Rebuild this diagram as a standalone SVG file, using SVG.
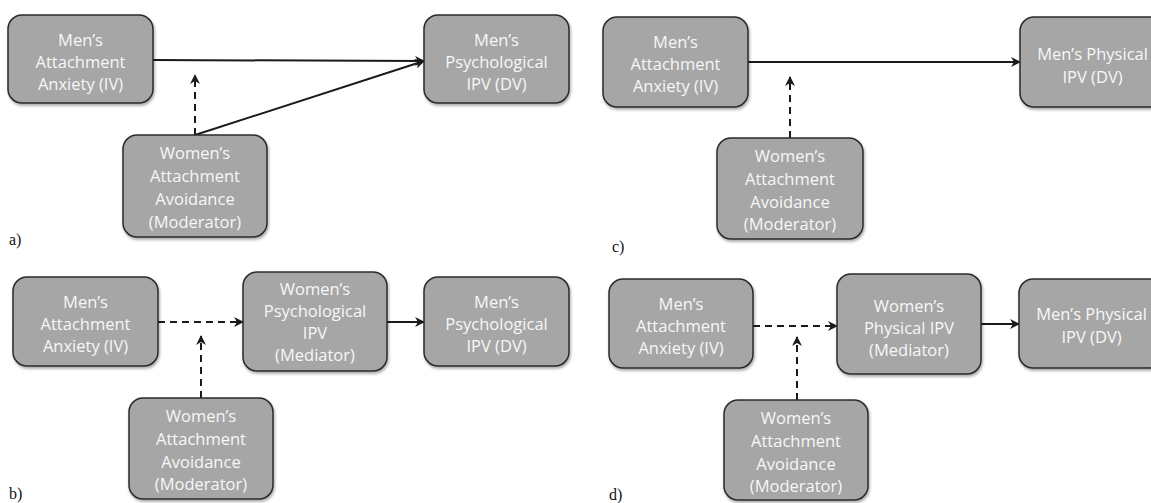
<svg xmlns="http://www.w3.org/2000/svg" width="1151" height="503" viewBox="0 0 1151 503">
  <defs>
    <marker id="arrow" viewBox="0 0 10 10" refX="9" refY="5" markerWidth="10" markerHeight="10" markerUnits="userSpaceOnUse" orient="auto">
      <path d="M0,0 L10,5 L0,10 L3,5 Z" fill="#1a1a1a"/>
    </marker>
    <filter id="shadow" x="-10%" y="-10%" width="130%" height="130%">
      <feGaussianBlur in="SourceAlpha" stdDeviation="1.5"/>
      <feOffset dx="1" dy="2" result="b"/>
      <feComponentTransfer><feFuncA type="linear" slope="0.35"/></feComponentTransfer>
      <feMerge><feMergeNode/><feMergeNode in="SourceGraphic"/></feMerge>
    </filter>
  </defs>
  <style>
    .box { fill: #a6a6a6; stroke: #2b2b2b; stroke-width: 1.5; filter: url(#shadow); }
    .lbl { font-family: "Open Sans", "Liberation Sans", sans-serif; font-size: 16.5px; fill: #f7f7f7; text-anchor: middle; }
    .solid { stroke: #1a1a1a; stroke-width: 2; fill: none; marker-end: url(#arrow); }
    .dash { stroke: #1a1a1a; stroke-width: 2; fill: none; stroke-dasharray: 7 5; marker-end: url(#arrow); }
    .tag { font-family: "Liberation Serif", serif; font-size: 16px; fill: #111; }
  </style>
  <rect width="1151" height="503" fill="#ffffff"/>

  <!-- connectors -->
  <g id="connectors">
    <!-- a -->
    <line class="solid" x1="153" y1="60" x2="424" y2="61"/>
    <line class="solid" x1="195" y1="135" x2="424" y2="61"/>
    <line class="dash" x1="195" y1="135" x2="195" y2="75"/>
    <!-- c -->
    <line class="solid" x1="748" y1="62" x2="1020" y2="62"/>
    <line class="dash" x1="790" y1="138" x2="790" y2="77"/>
    <!-- b -->
    <line class="dash" x1="158" y1="322" x2="243" y2="322"/>
    <line class="dash" x1="201" y1="398" x2="201" y2="336"/>
    <line class="solid" x1="387" y1="322" x2="424" y2="322"/>
    <!-- d -->
    <line class="dash" x1="753" y1="326" x2="837" y2="326"/>
    <line class="dash" x1="797" y1="400" x2="797" y2="337"/>
    <line class="solid" x1="981" y1="324" x2="1019" y2="324"/>
  </g>

  <!-- panel a -->
  <g id="a-iv">
    <rect class="box" x="8" y="15" width="145" height="88" rx="14"/>
    <text class="lbl" x="80.5" y="46">Men’s</text>
    <text class="lbl" x="80.5" y="68">Attachment</text>
    <text class="lbl" x="80.5" y="90">Anxiety (IV)</text>
  </g>
  <g id="a-dv">
    <rect class="box" x="424" y="15" width="145" height="88" rx="14"/>
    <text class="lbl" x="496.5" y="46">Men’s</text>
    <text class="lbl" x="496.5" y="68">Psychological</text>
    <text class="lbl" x="496.5" y="90">IPV (DV)</text>
  </g>
  <g id="a-mod">
    <rect class="box" x="123" y="135" width="144" height="102" rx="14"/>
    <text class="lbl" x="195" y="159">Women’s</text>
    <text class="lbl" x="195" y="182">Attachment</text>
    <text class="lbl" x="195" y="205">Avoidance</text>
    <text class="lbl" x="195" y="228">(Moderator)</text>
  </g>
  <text class="tag" x="9" y="245">a)</text>

  <!-- panel c -->
  <g id="c-iv">
    <rect class="box" x="603" y="17" width="145" height="90" rx="14"/>
    <text class="lbl" x="675.5" y="48">Men’s</text>
    <text class="lbl" x="675.5" y="70">Attachment</text>
    <text class="lbl" x="675.5" y="92">Anxiety (IV)</text>
  </g>
  <g id="c-dv">
    <rect class="box" x="1020" y="17" width="145" height="90" rx="14"/>
    <text class="lbl" x="1092.5" y="60">Men’s Physical</text>
    <text class="lbl" x="1092.5" y="83">IPV (DV)</text>
  </g>
  <g id="c-mod">
    <rect class="box" x="717" y="138" width="146" height="101" rx="14"/>
    <text class="lbl" x="790" y="162">Women’s</text>
    <text class="lbl" x="790" y="185">Attachment</text>
    <text class="lbl" x="790" y="208">Avoidance</text>
    <text class="lbl" x="790" y="230">(Moderator)</text>
  </g>
  <text class="tag" x="612" y="252">c)</text>

  <!-- panel b -->
  <g id="b-iv">
    <rect class="box" x="13" y="277" width="145" height="89" rx="14"/>
    <text class="lbl" x="85.5" y="308">Men’s</text>
    <text class="lbl" x="85.5" y="330">Attachment</text>
    <text class="lbl" x="85.5" y="352">Anxiety (IV)</text>
  </g>
  <g id="b-med">
    <rect class="box" x="243" y="272" width="144" height="99" rx="14"/>
    <text class="lbl" x="315" y="295">Women’s</text>
    <text class="lbl" x="315" y="317">Psychological</text>
    <text class="lbl" x="315" y="339">IPV</text>
    <text class="lbl" x="315" y="361">(Mediator)</text>
  </g>
  <g id="b-dv">
    <rect class="box" x="424" y="277" width="145" height="89" rx="14"/>
    <text class="lbl" x="496.5" y="308">Men’s</text>
    <text class="lbl" x="496.5" y="330">Psychological</text>
    <text class="lbl" x="496.5" y="352">IPV (DV)</text>
  </g>
  <g id="b-mod">
    <rect class="box" x="129" y="398" width="144" height="101" rx="14"/>
    <text class="lbl" x="201" y="422">Women’s</text>
    <text class="lbl" x="201" y="445">Attachment</text>
    <text class="lbl" x="201" y="468">Avoidance</text>
    <text class="lbl" x="201" y="490">(Moderator)</text>
  </g>
  <text class="tag" x="9" y="499">b)</text>

  <!-- panel d -->
  <g id="d-iv">
    <rect class="box" x="609" y="279" width="144" height="89" rx="14"/>
    <text class="lbl" x="681" y="310">Men’s</text>
    <text class="lbl" x="681" y="332">Attachment</text>
    <text class="lbl" x="681" y="354">Anxiety (IV)</text>
  </g>
  <g id="d-med">
    <rect class="box" x="837" y="274" width="144" height="100" rx="14"/>
    <text class="lbl" x="909" y="312">Women’s</text>
    <text class="lbl" x="909" y="334">Physical IPV</text>
    <text class="lbl" x="909" y="356">(Mediator)</text>
  </g>
  <g id="d-dv">
    <rect class="box" x="1019" y="279" width="145" height="89" rx="14"/>
    <text class="lbl" x="1091.5" y="320">Men’s Physical</text>
    <text class="lbl" x="1091.5" y="343">IPV (DV)</text>
  </g>
  <g id="d-mod">
    <rect class="box" x="724" y="400" width="144" height="100" rx="14"/>
    <text class="lbl" x="796" y="424">Women’s</text>
    <text class="lbl" x="796" y="447">Attachment</text>
    <text class="lbl" x="796" y="470">Avoidance</text>
    <text class="lbl" x="796" y="492">(Moderator)</text>
  </g>
  <text class="tag" x="609" y="500">d)</text>
</svg>
